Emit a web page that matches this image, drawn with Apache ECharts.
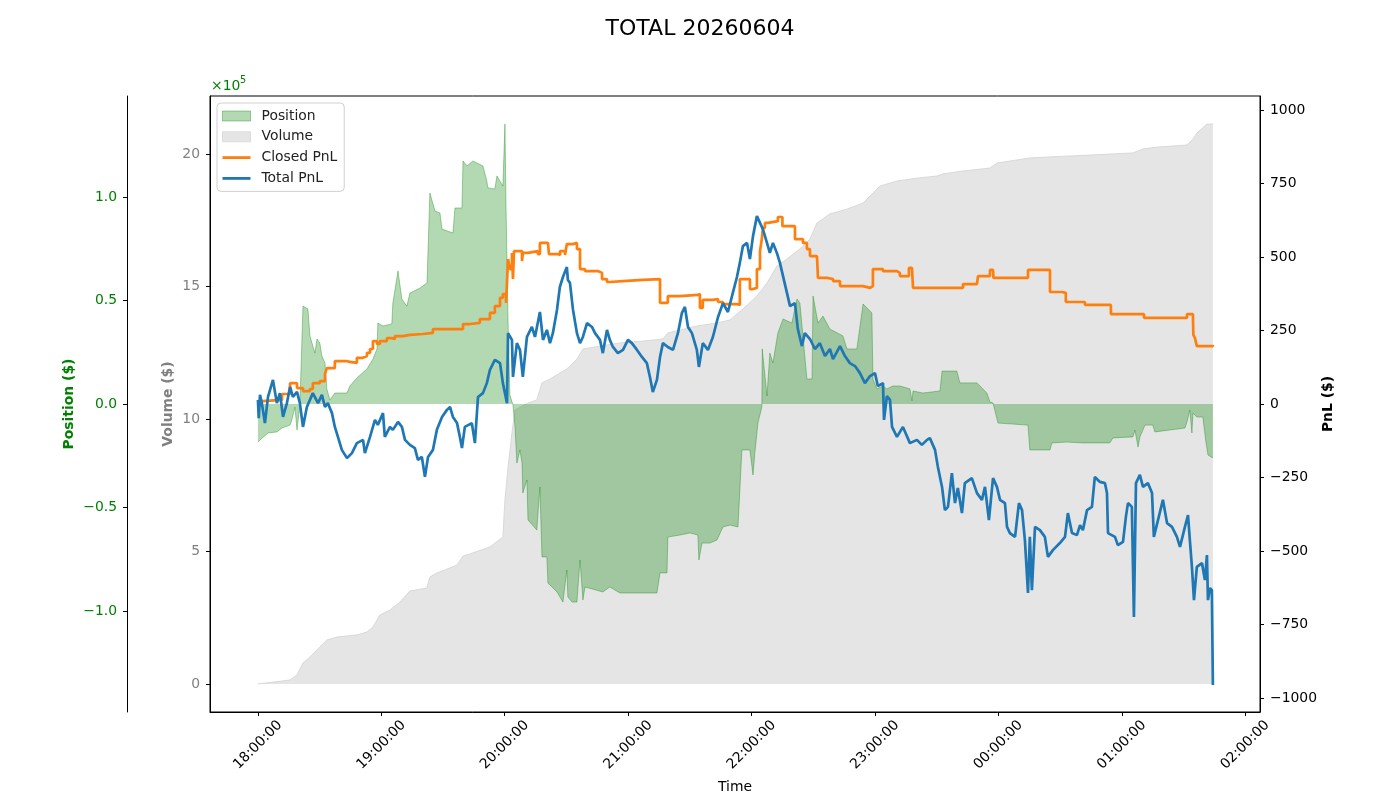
<!DOCTYPE html>
<html>
<head>
<meta charset="utf-8">
<title>TOTAL 20260604</title>
<script src="https://cdn.jsdelivr.net/npm/echarts@6/dist/echarts.min.js"></script>
<style>
  html, body { margin: 0; padding: 0; background: #fff; }
  #main { width: 1400px; height: 800px; }
</style>
</head>
<body>
<div id="main"></div>
<script>
// minutes after 18:00:00, value
// position ($)
const positionPts = [[0,-18400],[1.0,-17400],[4.9,-14000],[9.2,-13500],[11.7,-11600],[15.6,-10200],[16.5,-7700],[18.0,-1500],[19.0,-12600],[20.4,-500],[21.9,47300],[24.3,45900],[25.3,32900],[27.7,24600],[28.7,31400],[30.1,29500],[31.1,23200],[32.6,19800],[33.5,7300],[35.0,1900],[37.4,5300],[43.3,5300],[44.7,8700],[48.1,12600],[53.0,16900],[55.9,21700],[57.9,26600],[58.3,39100],[60.8,37700],[65.1,38700],[65.6,48800],[68.1,64300],[70.0,50700],[72.4,47300],[73.9,53600],[78.8,56000],[82.2,58500],[83.6,101900],[86.1,93200],[88.5,92300],[89.5,84500],[94.8,82600],[95.8,94700],[99.2,94700],[99.7,117400],[101.6,115000],[104.5,117400],[109.4,115000],[111.3,107700],[111.8,104400],[115.2,103900],[116.2,110200],[117.7,107700],[119.1,105300],[120.1,135300],[120.6,97100],[121.6,40600],[122.5,4400],[124.0,-500],[125.0,-11100],[125.9,-28500],[127.4,-22200],[128.4,-28500],[128.8,-43000],[130.8,-36700],[131.3,-56000],[135.6,-60900],[137.1,-40100],[138.1,-73900],[140.5,-73900],[141.0,-86500],[145.4,-90800],[148.3,-95700],[150.2,-80200],[150.7,-93200],[152.7,-95700],[155.1,-95700],[156.6,-75400],[158.0,-94700],[159.0,-88400],[167.7,-90800],[171.1,-88400],[176.0,-91300],[194.0,-91300],[195.5,-81600],[198.9,-81600],[199.3,-64300],[205.2,-63300],[210.0,-62300],[213.9,-63300],[214.4,-75400],[215.9,-67200],[219.8,-67200],[223.2,-65700],[226.1,-59400],[229.5,-58500],[233.4,-59400],[235.3,-22200],[239.2,-22200],[240.7,-34300],[241.6,-23700],[243.1,-9200],[245.0,-1500],[245.2,26600],[247.5,3900],[248.9,24600],[250.4,19800],[252.8,34300],[255.3,41100],[259.6,39100],[262.1,50700],[263.5,48800],[266.9,12100],[269.4,12100],[269.9,52200],[272.3,39100],[274.7,42500],[278.1,36200],[284.4,32900],[286.4,26600],[291.2,26600],[294.2,48300],[298.5,44000],[299.0,12100],[301.0,7300],[303.9,8700],[305.8,7300],[308.7,8700],[312.1,8700],[317.0,7300],[318.0,1500],[318.5,6300],[323.3,5300],[331.6,6300],[332.6,15900],[339.8,15900],[341.3,10200],[349.6,10200],[354.4,5300],[355.9,1000],[357.4,500],[359.8,-9200],[374.4,-10200],[375.3,-22200],[385.1,-22200],[386.0,-18800],[393.3,-18400],[401.1,-18800],[414.2,-18800],[415.7,-16400],[425.4,-15900],[426.4,-12600],[427.9,-20800],[428.8,-15900],[431.3,-10200],[435.1,-10200],[436.1,-13500],[450.7,-11600],[451.7,-8700],[453.1,-2900],[454.1,-14000],[454.6,-4400],[456.5,-6300],[459.4,-6300],[460.9,-18400],[461.9,-24600],[464.3,-26100]];

// cumulative volume ($)
const volumePts = [[0,0],[15.6,15000],[19.0,34000],[21.9,79000],[25.3,102000],[30.1,140000],[33.5,166000],[38.4,177000],[48.1,185000],[53.0,196000],[55.9,215000],[59.3,260000],[64.2,279000],[69.0,309000],[73.9,351000],[82.2,362000],[83.6,404000],[87.0,419000],[93.4,438000],[96.8,449000],[99.7,483000],[103.1,491000],[112.8,517000],[119.1,555000],[120.1,694000],[121.6,819000],[123.5,947000],[125.0,1034000],[131.3,1060000],[135.6,1072000],[138.1,1136000],[142.0,1151000],[150.2,1189000],[155.1,1226000],[158.0,1264000],[166.3,1275000],[176.0,1287000],[187.2,1294000],[196.9,1302000],[199.3,1325000],[213.4,1351000],[223.2,1362000],[229.5,1374000],[235.8,1415000],[242.6,1464000],[247.5,1513000],[252.3,1577000],[257.2,1604000],[263.5,1642000],[268.4,1679000],[271.8,1740000],[278.1,1774000],[286.4,1792000],[294.2,1815000],[299.0,1853000],[302.4,1879000],[310.7,1898000],[320.4,1909000],[330.1,1917000],[333.0,1925000],[342.8,1936000],[355.9,1947000],[359.3,1966000],[375.3,1985000],[385.1,1989000],[404.5,1996000],[425.4,2004000],[430.3,2019000],[437.1,2026000],[451.7,2034000],[454.6,2057000],[456.5,2079000],[461.4,2113000],[464.3,2113000]];

// closed PnL ($)
const closedPnlPts = [[0,10],[1.9,14],[11.7,34],[15.6,71],[19.0,54],[21.9,44],[25.3,51],[26.7,71],[30.1,78],[32.6,102],[33.5,122],[37.4,146],[43.3,143],[44.7,140],[48.1,157],[51.0,163],[53.0,174],[54.5,187],[55.9,214],[57.9,204],[59.3,214],[62.7,224],[65.1,221],[66.6,231],[70.5,235],[73.9,238],[80.2,242],[85.1,255],[99.7,272],[103.1,276],[107.9,289],[112.8,310],[115.2,333],[117.7,361],[119.1,374],[120.6,344],[121.1,412],[121.6,493],[122.5,459],[123.5,514],[124.0,425],[124.5,520],[128.4,486],[128.8,514],[131.3,520],[136.1,510],[137.1,548],[141.0,551],[141.5,510],[145.9,507],[146.9,520],[149.3,507],[150.2,544],[153.2,548],[155.1,527],[156.6,459],[159.0,452],[165.3,446],[167.3,425],[169.7,415],[171.1,418],[177.5,422],[187.2,425],[195.5,344],[199.3,367],[205.2,371],[213.9,374],[214.9,327],[216.3,354],[221.2,357],[223.7,347],[226.1,340],[232.9,337],[234.3,425],[239.2,391],[240.7,395],[242.6,459],[244.1,520],[245.0,561],[245.5,599],[246.5,616],[248.0,612],[248.9,622],[252.8,636],[255.0,605],[261.1,561],[265.0,548],[266.9,527],[268.4,503],[271.8,497],[272.3,429],[276.7,425],[279.6,418],[283.0,401],[294.2,395],[297.6,401],[299.0,459],[303.9,452],[310.7,446],[312.1,435],[316.5,463],[318.0,459],[318.5,395],[342.8,408],[349.6,412],[350.1,435],[355.9,456],[357.4,459],[357.6,429],[374.4,456],[385.1,381],[390.9,378],[392.8,347],[402.1,337],[414.7,306],[430.8,293],[451.7,306],[454.6,293],[454.8,235],[455.6,224],[456.5,197],[464.3,201]];

// total PnL ($)
const totalPnlPts = [[0,14],[0.4,-48],[1.0,31],[1.9,3],[3.4,-65],[4.9,24],[7.3,82],[9.2,3],[10.7,37],[12.2,-44],[14.1,3],[15.6,58],[17.0,24],[19.0,41],[20.4,3],[21.9,-78],[23.8,-10],[26.7,37],[29.2,3],[31.1,31],[32.6,-10],[34.0,3],[36.0,-31],[37.4,-78],[38.9,-112],[40.8,-156],[43.3,-184],[45.7,-167],[48.1,-133],[51.1,-122],[52.0,-167],[54.5,-112],[56.9,-54],[58.3,-71],[60.8,-31],[61.7,-112],[64.2,-78],[65.6,-88],[68.1,-61],[70.0,-78],[71.5,-122],[73.9,-139],[76.3,-150],[77.8,-190],[79.7,-180],[81.2,-248],[82.7,-180],[85.1,-156],[87.0,-88],[89.5,-44],[91.9,-20],[93.4,-10],[94.8,-44],[96.8,-65],[98.2,-112],[99.2,-150],[100.6,-78],[104.0,-65],[105.5,-133],[107.0,24],[109.4,37],[111.3,71],[112.8,116],[115.2,150],[117.7,139],[119.1,71],[121.1,3],[121.6,241],[123.5,218],[124.0,92],[125.9,207],[127.4,184],[128.8,92],[130.8,228],[133.2,262],[134.7,228],[137.1,313],[138.6,218],[140.5,252],[142.0,207],[143.4,241],[145.4,320],[146.8,398],[148.3,432],[150.2,466],[150.7,422],[151.7,412],[153.2,320],[155.1,241],[156.6,207],[158.0,228],[160.0,275],[162.4,262],[163.9,241],[166.3,218],[167.7,173],[169.7,252],[171.1,218],[172.6,194],[175.0,173],[177.5,184],[179.9,218],[181.8,207],[184.3,184],[186.7,160],[189.1,139],[190.6,92],[192.0,41],[194.0,82],[195.5,160],[196.9,207],[199.3,194],[201.8,184],[204.2,241],[206.1,309],[207.6,330],[209.1,262],[211.0,241],[213.4,184],[214.4,126],[216.3,207],[218.8,184],[221.2,228],[223.7,296],[226.1,343],[228.5,313],[230.9,378],[232.9,432],[234.3,480],[235.8,537],[237.8,548],[239.2,493],[240.7,571],[242.6,639],[244.1,616],[245.5,595],[247.5,548],[248.9,514],[250.4,548],[252.3,514],[253.8,480],[255.3,435],[257.2,378],[258.7,333],[261.1,343],[262.5,255],[264.5,197],[265.9,241],[268.4,221],[270.8,187],[273.2,207],[275.7,163],[278.1,187],[279.6,153],[283.0,197],[285.4,163],[287.8,139],[290.3,129],[292.7,105],[295.1,71],[297.6,95],[300.0,105],[301.4,61],[303.9,71],[304.4,-54],[305.8,27],[307.3,14],[308.3,-78],[310.7,-112],[313.6,-78],[317.0,-133],[320.4,-122],[322.8,-139],[325.3,-122],[326.7,-116],[329.2,-156],[330.6,-214],[332.6,-282],[334.0,-361],[335.5,-350],[337.4,-235],[338.9,-337],[340.3,-286],[342.3,-371],[343.7,-269],[347.1,-252],[349.6,-303],[352.0,-326],[353.5,-282],[355.4,-395],[357.4,-252],[359.3,-282],[360.8,-326],[363.2,-337],[364.2,-418],[365.6,-439],[368.1,-452],[370.0,-337],[371.5,-361],[372.9,-463],[374.4,-643],[375.3,-452],[376.3,-633],[377.8,-418],[380.2,-429],[382.6,-452],[384.1,-520],[386.5,-497],[389.9,-473],[392.4,-452],[393.8,-371],[395.8,-439],[398.2,-446],[399.7,-412],[401.1,-429],[403.1,-361],[405.5,-350],[406.9,-248],[409.4,-265],[411.8,-269],[412.8,-303],[413.3,-439],[416.7,-452],[418.1,-480],[420.6,-469],[422.0,-384],[423.0,-337],[424.9,-350],[425.9,-724],[426.9,-269],[428.8,-241],[430.3,-282],[432.7,-269],[434.7,-303],[435.6,-452],[437.6,-395],[440.0,-326],[442.0,-405],[444.4,-418],[446.8,-452],[448.3,-486],[450.7,-418],[452.2,-378],[453.1,-463],[454.1,-554],[455.1,-667],[456.5,-554],[459.0,-541],[460.4,-599],[461.4,-514],[461.9,-667],[462.9,-626],[463.8,-633],[464.3,-956]];

// tick positions
const timeTicks = [0, 60, 120, 180, 240, 300, 360, 420, 480];
const positionTicks = [-100000, -50000, 0, 50000, 100000];
const volumeTicks = [0, 500000, 1000000, 1500000, 2000000];
const pnlTicks = [-1000, -750, -500, -250, 0, 250, 500, 750, 1000];

var FONT = 'DejaVu Sans';
var FS = 13.9;
var MINUS = '\u2212';
var LINE_ICON = 'path://M0,0H28V2.8H0Z';

function timeLabel(m) {
    var total = Math.round(18 * 60 + m);
    var h = Math.floor(total / 60) % 24;
    var mm = total % 60;
    return (h < 10 ? '0' : '') + h + ':' + (mm < 10 ? '0' : '') + mm + ':00';
}

var chart = echarts.init(document.getElementById('main'), null, { renderer: 'canvas' });

var option = {
    animation: false,
    backgroundColor: '#fff',
    textStyle: { fontFamily: FONT },
    title: {
        text: 'TOTAL 20260604',
        left: 'center',
        top: 13,
        textStyle: { fontFamily: FONT, fontSize: 22, fontWeight: 'normal', color: '#000' }
    },
    grid: {
        left: 210, right: 140, top: 96, bottom: 88,
        show: true, borderColor: '#000', borderWidth: 1, backgroundColor: 'transparent'
    },
    legend: {
        orient: 'vertical',
        left: 217, top: 103,
        itemWidth: 28, itemHeight: 10, itemGap: 6.8,
        padding: [6, 7, 6, 5],
        backgroundColor: 'rgba(255,255,255,0.8)',
        borderColor: '#d0d0d0', borderWidth: 1, borderRadius: 4,
        textStyle: { fontFamily: FONT, fontSize: FS, color: '#222', padding: [0, 0, 0, 6] },
        data: [
            { name: 'Position', icon: 'rect', itemStyle: { color: 'rgba(0,128,0,0.3)', borderColor: 'rgba(0,128,0,0.35)', borderWidth: 1 } },
            { name: 'Volume', icon: 'rect', itemStyle: { color: '#e5e5e5', borderColor: '#dcdcdc', borderWidth: 1 } },
            { name: 'Closed PnL', icon: LINE_ICON, itemStyle: { color: '#ff7f0e' } },
            { name: 'Total PnL', icon: LINE_ICON, itemStyle: { color: '#1f77b4' } }
        ]
    },
    graphic: [
        { type: 'text', left: 211, top: 79, style: { text: '\u00d710', fill: '#008000', font: '13.9px "DejaVu Sans"' } },
        { type: 'text', left: 240, top: 75, style: { text: '5', fill: '#008000', font: '9.7px "DejaVu Sans"' } }
    ],
    xAxis: {
        type: 'value',
        min: -23.3, max: 487.2,
        name: 'Time',
        nameLocation: 'middle',
        nameGap: 68,
        nameMoveOverlap: false,
        nameTextStyle: { fontFamily: FONT, fontSize: FS, color: '#000' },
        axisLine: { show: true, onZero: false, lineStyle: { color: '#000', width: 1 } },
        axisTick: { show: true, length: 4, lineStyle: { color: '#000' }, customValues: timeTicks },
        axisLabel: {
            customValues: timeTicks,
            formatter: function (v) { return timeLabel(v); },
            rotate: 45, align: 'center', verticalAlign: 'middle', margin: 33,
            fontFamily: FONT, fontSize: FS, color: '#000'
        },
        splitLine: { show: false }
    },
    yAxis: [
        {
            type: 'value', position: 'left', offset: 83,
            min: -148800, max: 148800,
            name: 'Position ($)', nameLocation: 'middle', nameRotate: 90, nameGap: 51,
            nameMoveOverlap: false,
            nameTextStyle: { fontFamily: FONT, fontSize: FS, fontWeight: 'bold', color: '#008000' },
            axisLine: { show: true, onZero: false, lineStyle: { color: '#000', width: 1 } },
            axisTick: { show: true, length: 4, lineStyle: { color: '#000' }, customValues: positionTicks },
            axisLabel: {
                customValues: positionTicks, margin: 10,
                formatter: function (v) { return (v / 1e5).toFixed(1).replace('-', MINUS); },
                fontFamily: FONT, fontSize: FS, color: '#008000'
            },
            splitLine: { show: false }
        },
        {
            type: 'value', position: 'left', offset: 0,
            min: -105700, max: 2219000,
            name: 'Volume ($)', nameLocation: 'middle', nameRotate: 90, nameGap: 35,
            nameMoveOverlap: false,
            nameTextStyle: { fontFamily: FONT, fontSize: FS, fontWeight: 'bold', color: '#808080' },
            axisLine: { show: true, onZero: false, lineStyle: { color: '#000', width: 1 } },
            axisTick: { show: true, length: 4, lineStyle: { color: '#000' }, customValues: volumeTicks },
            axisLabel: {
                customValues: volumeTicks, margin: 10,
                formatter: function (v) { return String(Math.round(v / 1e5)); },
                fontFamily: FONT, fontSize: FS, color: '#808080'
            },
            splitLine: { show: false }
        },
        {
            type: 'value', position: 'right',
            min: -1047.6, max: 1047.6,
            name: 'PnL ($)', nameLocation: 'middle', nameRotate: 90, nameGap: 61,
            nameMoveOverlap: false,
            nameTextStyle: { fontFamily: FONT, fontSize: FS, fontWeight: 'bold', color: '#000' },
            axisLine: { show: true, onZero: false, lineStyle: { color: '#000', width: 1 } },
            axisTick: { show: true, length: 4, lineStyle: { color: '#000' }, customValues: pnlTicks },
            axisLabel: {
                customValues: pnlTicks, margin: 10,
                formatter: function (v) { return String(v).replace('-', MINUS); },
                fontFamily: FONT, fontSize: FS, color: '#000'
            },
            splitLine: { show: false }
        }
    ],
    series: [
        {
            name: 'Volume', type: 'line', yAxisIndex: 1, data: volumePts,
            symbol: 'none', showSymbol: false, z: 1,
            itemStyle: { color: '#e5e5e5' },
            lineStyle: { color: '#d9d9d9', width: 1 },
            areaStyle: { color: '#e5e5e5', opacity: 1 }
        },
        {
            name: 'Position', type: 'line', yAxisIndex: 0, data: positionPts,
            symbol: 'none', showSymbol: false, z: 2,
            itemStyle: { color: 'rgba(0,128,0,0.3)' },
            lineStyle: { color: 'rgba(0,128,0,0.35)', width: 1 },
            areaStyle: { color: 'rgba(0,128,0,0.3)', opacity: 1 }
        },
        {
            name: 'Closed PnL', type: 'line', yAxisIndex: 2, data: closedPnlPts,
            step: 'end', symbol: 'none', showSymbol: false, z: 3,
            itemStyle: { color: '#ff7f0e' },
            lineStyle: { color: '#ff7f0e', width: 2.7 }
        },
        {
            name: 'Total PnL', type: 'line', yAxisIndex: 2, data: totalPnlPts,
            symbol: 'none', showSymbol: false, z: 4,
            itemStyle: { color: '#1f77b4' },
            lineStyle: { color: '#1f77b4', width: 2.7 }
        }
    ]
};

chart.setOption(option);
</script>
</body>
</html>
